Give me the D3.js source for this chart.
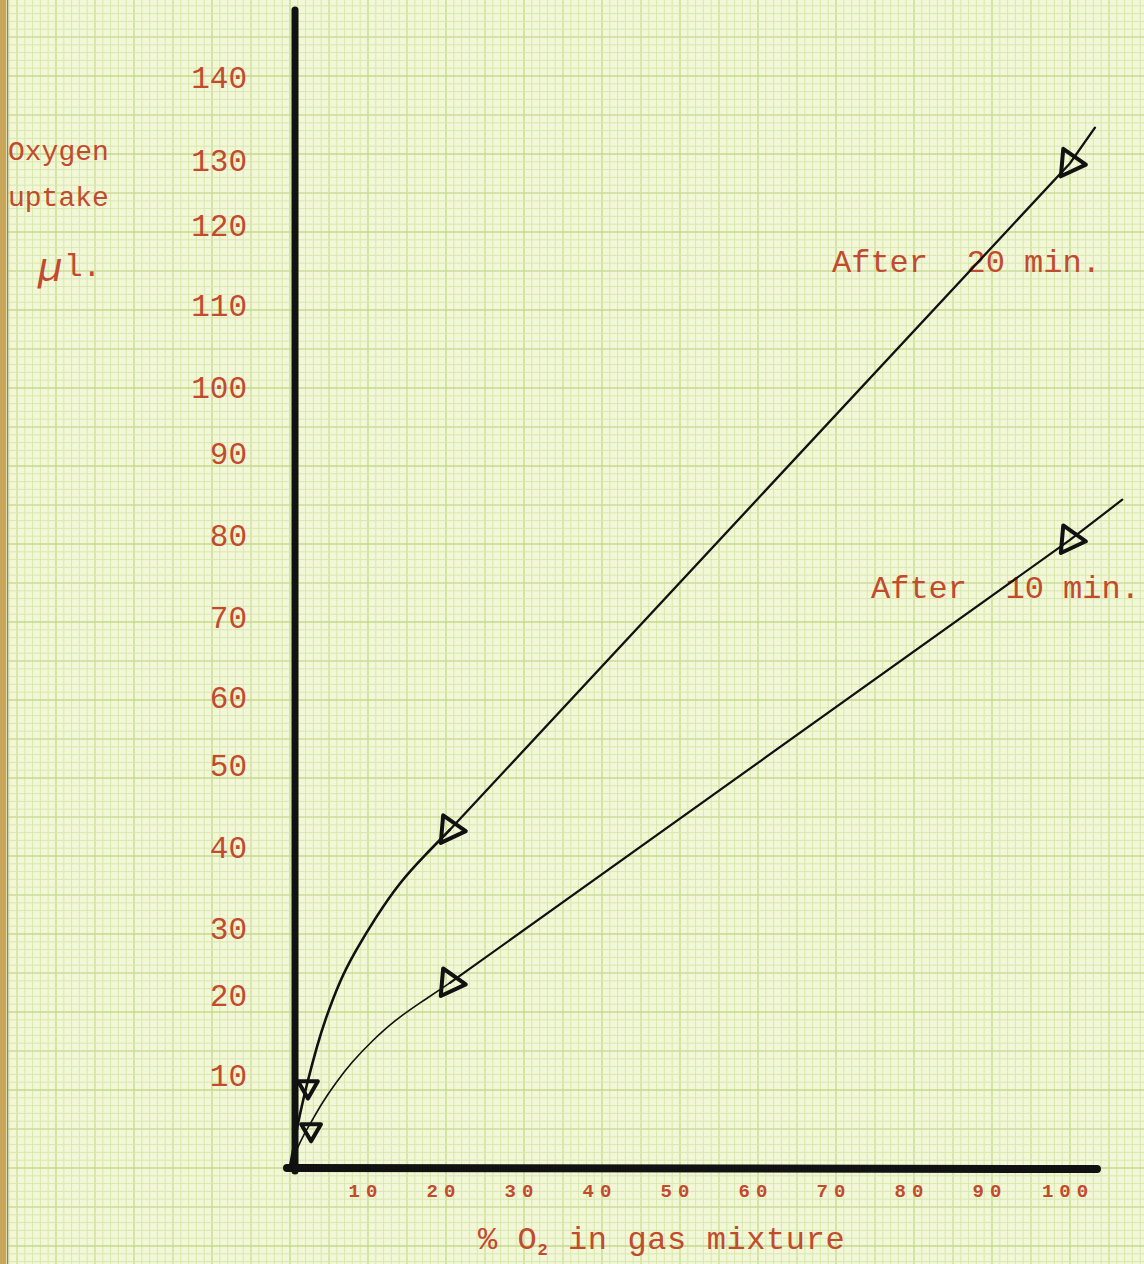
<!DOCTYPE html>
<meta charset="utf-8" />
<script src="https://d3js.org/d3.v7.min.js"></script>
<body style="margin: 0; background-color: #f2f7d6">
  <div id="chart"></div>
  <script>
    // values
    var xTicks = [10, 20, 30, 40, 50, 60, 70, 80, 90, 100];
    var yTicks = [10, 20, 30, 40, 50, 60, 70, 80, 90, 100, 110, 120, 130, 140];

    // % O2 and uptake (µl) along each drawn curve
    var after20X = [0, 0.5, 1.15, 2.3, 3.5, 4.5, 6.4, 8.3, 10.9, 14.1, 17.3, 20.5, 100, 103.2];
    var after20Y = [0.2, 2.4, 5.4, 9.5, 13.75, 16.9, 22.2, 26.4, 31.2, 35.7, 39.0, 42.1, 129.5, 133.9];
    var after10X = [0, 0.8, 1.7, 2.7, 4.1, 5.9, 7.9, 10.5, 13.5, 16.8, 20.5, 100, 106.7];
    var after10Y = [0.1, 1.9, 3.5, 4.9, 7.0, 9.2, 11.6, 14.25, 16.9, 19.1, 21.8, 79.4, 84.3];

    // measured points (triangles)
    var pts20X = [2.3, 20.5, 100];
    var pts20Y = [8.7, 42.1, 129.5];
    var pts10X = [2.7, 20.5, 100];
    var pts10Y = [4.1, 21.8, 79.4];

    var width = 1144,
      height = 1264;
    var red = "#c24a2d";
    var mono = "'Liberation Mono', 'DejaVu Sans Mono', monospace";

    var svg = d3
      .select("#chart")
      .append("svg")
      .attr("width", width)
      .attr("height", height);

    var x = d3.scaleLinear().domain([0, 100]).range([290, 1070]);
    // the typed y labels are not evenly spaced on the sheet
    var y = d3
      .scaleLinear()
      .domain([0, 10, 20, 30, 40, 50, 60, 70, 80, 90, 100, 110, 120, 130, 140])
      .range([1168, 1075, 995, 928, 847, 765, 697, 617, 535, 453, 387, 305, 225, 160, 77]);

    // graph paper
    svg.append("rect").attr("width", width).attr("height", height).attr("fill", "#f2f7d8");
    var step = 7.8;
    var grid = svg.append("g");
    function gridColor(k) {
      return k % 10 == 0 ? "#c3d88c" : k % 5 == 0 ? "#cbdd98" : "#d9e7ae";
    }
    d3.range(-40, 120).forEach(function (k) {
      var gx = 290 + k * step;
      if (gx < 8 || gx > width) return;
      grid
        .append("line")
        .attr("x1", gx)
        .attr("x2", gx)
        .attr("y1", 0)
        .attr("y2", height)
        .attr("stroke", gridColor(k))
        .attr("stroke-width", k % 5 == 0 ? 1.3 : 1);
    });
    d3.range(-20, 160).forEach(function (k) {
      var gy = 1168 - k * step;
      if (gy < 0 || gy > height) return;
      grid
        .append("line")
        .attr("x1", 8)
        .attr("x2", width)
        .attr("y1", gy)
        .attr("y2", gy)
        .attr("stroke", gridColor(k))
        .attr("stroke-width", k % 5 == 0 ? 1.3 : 1);
    });
    // binding edge
    svg.append("rect").attr("x", 0).attr("y", 0).attr("width", 6).attr("height", height).attr("fill", "#c9a65a");
    svg.append("line").attr("x1", 7.5).attr("x2", 7.5).attr("y1", 0).attr("y2", height).attr("stroke", "#9a8644").attr("stroke-width", 1.5);

    // axes
    svg.append("line")
      .attr("x1", 295).attr("x2", 295).attr("y1", 10).attr("y2", 1171)
      .attr("stroke", "#111").attr("stroke-width", 7).attr("stroke-linecap", "round");
    svg.append("line")
      .attr("x1", 287).attr("x2", 1097).attr("y1", 1168).attr("y2", 1169)
      .attr("stroke", "#111").attr("stroke-width", 8).attr("stroke-linecap", "round");

    svg.append("g")
      .selectAll("text")
      .data(yTicks)
      .enter()
      .append("text")
      .attr("x", 247)
      .attr("y", function (d) { return y(d); })
      .attr("dy", "0.35em")
      .attr("text-anchor", "end")
      .style("font-family", mono)
      .style("font-size", "31px")
      .style("fill", red)
      .text(function (d) { return d; });

    svg.append("g")
      .selectAll("text")
      .data(xTicks)
      .enter()
      .append("text")
      .attr("x", function (d) { return x(d) - 2; })
      .attr("y", 1197)
      .attr("text-anchor", "middle")
      .style("font-family", mono)
      .style("font-size", "19px")
      .style("font-weight", "bold")
      .style("letter-spacing", "6px")
      .style("fill", red)
      .text(function (d) { return d; });

    // axis titles
    function typed(t, tx, ty, size) {
      return svg.append("text")
        .attr("x", tx).attr("y", ty)
        .attr("xml:space", "preserve")
        .style("white-space", "pre")
        .style("font-family", mono)
        .style("font-size", size + "px")
        .style("fill", red)
        .text(t);
    }
    typed("Oxygen", 8, 160, 28);
    typed("uptake", 8, 206, 28);
    typed("\u00b5", 38, 281, 40).style("font-style", "italic");
    typed("l.", 64, 276, 31);

    var xt = svg.append("text")
      .attr("x", 478).attr("y", 1249)
      .attr("xml:space", "preserve")
      .style("white-space", "pre")
      .style("font-family", mono)
      .style("font-size", "32px")
      .style("letter-spacing", "0.6px")
      .style("fill", red);
    xt.append("tspan").text("% O");
    xt.append("tspan").attr("dy", 6).style("font-size", "17px").style("font-weight", "bold").text("2");
    xt.append("tspan").attr("dy", -6).text(" in gas mixture");

    typed("After  20 min.", 832, 272, 32);
    typed("After  10 min.", 871, 598, 32);

    // curves: bend near the origin, straight from the 20.5 % point on
    function drawSeries(xs, ys, knee, w1, w2) {
      var pts = xs.map(function (v, i) { return [v, ys[i]]; });
      var curve = d3.line()
        .x(function (d) { return x(d[0]); })
        .y(function (d) { return y(d[1]); })
        .curve(d3.curveBasis);
      var straight = d3.line()
        .x(function (d) { return x(d[0]); })
        .y(function (d) { return y(d[1]); });
      var k = xs.indexOf(knee);
      svg.append("path")
        .attr("d", curve(pts.slice(0, k + 1)))
        .attr("fill", "none").attr("stroke", "#111").attr("stroke-width", w1)
        .attr("stroke-linecap", "round");
      svg.append("path")
        .attr("d", straight(pts.slice(k)))
        .attr("fill", "none").attr("stroke", "#111").attr("stroke-width", w2)
        .attr("stroke-linecap", "round");
    }
    drawSeries(after20X, after20Y, 20.5, 2.6, 2.3);
    drawSeries(after10X, after10Y, 20.5, 1.6, 2.2);

    function drawMarks(xs, ys) {
      svg.append("g")
        .selectAll("path")
        .data(xs.map(function (v, i) { return [v, ys[i]]; }))
        .enter()
        .append("path")
        .attr("d", function (d) {
          return d3.symbol().type(d3.symbolTriangle).size(d[0] < 5 ? 170 : 330)();
        })
        .attr("transform", function (d) {
          var rot = d[0] < 5 ? 180 : 95;
          return "translate(" + x(d[0]) + "," + y(d[1]) + ") rotate(" + rot + ")";
        })
        .attr("fill", "none")
        .attr("stroke", "#111")
        .attr("stroke-width", 4)
        .attr("stroke-linejoin", "round");
    }
    drawMarks(pts20X, pts20Y);
    drawMarks(pts10X, pts10Y);
  </script>
</body>
